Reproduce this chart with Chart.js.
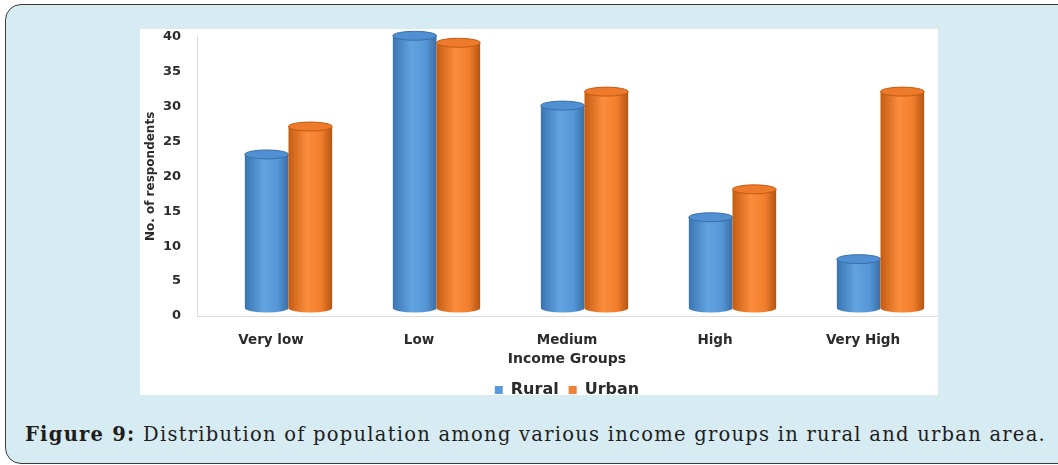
<!DOCTYPE html>
<html>
<head>
<meta charset="utf-8">
<title>Income groups</title>
<script src="https://cdn.jsdelivr.net/npm/chart.js@4.4.1/dist/chart.umd.min.js"></script>
<style>
  html, body { margin: 0; padding: 0; background: #fff; }
  body { width: 1058px; height: 465px; overflow: hidden; position: relative; }
  .frame {
    position: absolute; left: 5px; top: 4px; width: 1075px; height: 460px;
    box-sizing: border-box; border: 1.5px solid #3a3a3a; border-radius: 16px;
    background: #d7ebf2;
  }
  .panel { position: absolute; left: 140px; top: 29px; width: 798px; height: 366px; background: #fff; }
  #incomeChart { position: absolute; left: 140px; top: 29px; }
  .caption {
    position: absolute; left: 25px; top: 423px; white-space: nowrap;
    font-family: "DejaVu Serif", serif; font-size: 19.5px; letter-spacing: 1.25px; color: #1e1e1e;
  }
</style>
</head>
<body>
<div class="frame"></div>
<div class="panel"></div>
<canvas id="incomeChart" width="798" height="379"></canvas>
<div class="caption"><b>Figure 9:</b> Distribution of population among various income groups in rural and urban area.</div>
<script>
var incomeGroups = ['Very low', 'Low', 'Medium', 'High', 'Very High'];
var ruralValues = [22, 39, 29, 13, 7];
var urbanValues = [26, 38, 31, 17, 31];
var yTickValues = [0, 5, 10, 15, 20, 25, 30, 35, 40];

var textColor = '#2b2b2b';
// the cylinders stand a little behind the axis plane (3-D look)
var depthX = 17.5, depthY = 8;

// side-to-side shading for each cylinder body
var shades = [
  { body: ['#3a73b3', '#62a3e0', '#5597d7', '#3b6ea6'], top: '#4f8fd2', rim: '#3a6fa8' },
  { body: ['#c45c10', '#fb8d3d', '#f17e2d', '#b65310'], top: '#ee7b2b', rim: '#c25a12' }
];

var cylinders = {
  id: 'cylinders',
  beforeDatasetDraw: function () { return false; },
  afterDatasetsDraw: function (chart) {
    var ctx = chart.ctx;
    chart.data.datasets.forEach(function (ds, di) {
      var shade = shades[di];
      chart.getDatasetMeta(di).data.forEach(function (bar) {
        var p = bar.getProps(['x', 'y', 'base', 'width'], true);
        var cx = p.x + depthX;
        var rx = p.width / 2, ry = 4.5;
        var left = cx - rx, right = cx + rx;
        var top = p.y - depthY, bottom = p.base - depthY;
        var g = ctx.createLinearGradient(left, 0, right, 0);
        g.addColorStop(0, shade.body[0]);
        g.addColorStop(0.42, shade.body[1]);
        g.addColorStop(0.75, shade.body[2]);
        g.addColorStop(1, shade.body[3]);
        ctx.save();
        ctx.beginPath();
        ctx.moveTo(left, top);
        ctx.lineTo(left, bottom);
        ctx.ellipse(cx, bottom, rx, ry, 0, Math.PI, 0, true);
        ctx.lineTo(right, top);
        ctx.closePath();
        ctx.fillStyle = g;
        ctx.fill();
        ctx.beginPath();
        ctx.ellipse(cx, top, rx, ry, 0, 0, Math.PI * 2);
        ctx.fillStyle = shade.top;
        ctx.fill();
        ctx.lineWidth = 1;
        ctx.strokeStyle = shade.rim;
        ctx.stroke();
        ctx.restore();
      });
    });
  }
};

var ctx = document.getElementById('incomeChart').getContext('2d');
new Chart(ctx, {
  type: 'bar',
  data: {
    labels: incomeGroups,
    datasets: [{
      label: 'Rural',
      data: ruralValues,
      backgroundColor: '#5a9ad8',
      borderWidth: 0
    }, {
      label: 'Urban',
      data: urbanValues,
      backgroundColor: '#f0813a',
      borderWidth: 0
    }]
  },
  options: {
    responsive: false,
    animation: false,
    devicePixelRatio: 1,
    events: [],
    categoryPercentage: 0.59,
    barPercentage: 1,
    layout: { padding: { top: 0, right: 1, left: 0, bottom: 0 } },
    plugins: {
      tooltip: { enabled: false },
      legend: {
        position: 'bottom',
        fullSize: false,
        labels: {
          boxWidth: 8,
          boxHeight: 8,
          padding: 10,
          color: textColor,
          font: { family: 'DejaVu Sans', weight: 'bold', size: 16 }
        }
      }
    },
    scales: {
      x: {
        afterFit: function (scale) { scale.height = 56; },
        grid: { display: false },
        border: { color: '#dcdcdc' },
        ticks: {
          padding: 8,
          color: textColor,
          font: { family: 'DejaVu Sans', weight: 'bold', size: 13.5 }
        },
        title: {
          display: true,
          text: 'Income Groups',
          color: textColor,
          font: { family: 'DejaVu Sans', weight: 'bold', size: 14 }
        }
      },
      y: {
        min: 0,
        max: 40,
        afterBuildTicks: function (scale) {
          scale.ticks = yTickValues.map(function (v) { return { value: v }; });
        },
        afterFit: function (scale) { scale.width = 57; },
        grid: { display: false, drawTicks: true, tickLength: 16 },
        border: { color: '#dcdcdc' },
        ticks: {
          padding: 0,
          color: textColor,
          font: { family: 'DejaVu Sans', weight: 'bold', size: 13 }
        },
        title: {
          display: true,
          text: 'No. of respondents',
          color: textColor,
          font: { family: 'DejaVu Sans', weight: 'bold', size: 12 }
        }
      }
    }
  },
  plugins: [cylinders]
});
</script>
</body>
</html>
